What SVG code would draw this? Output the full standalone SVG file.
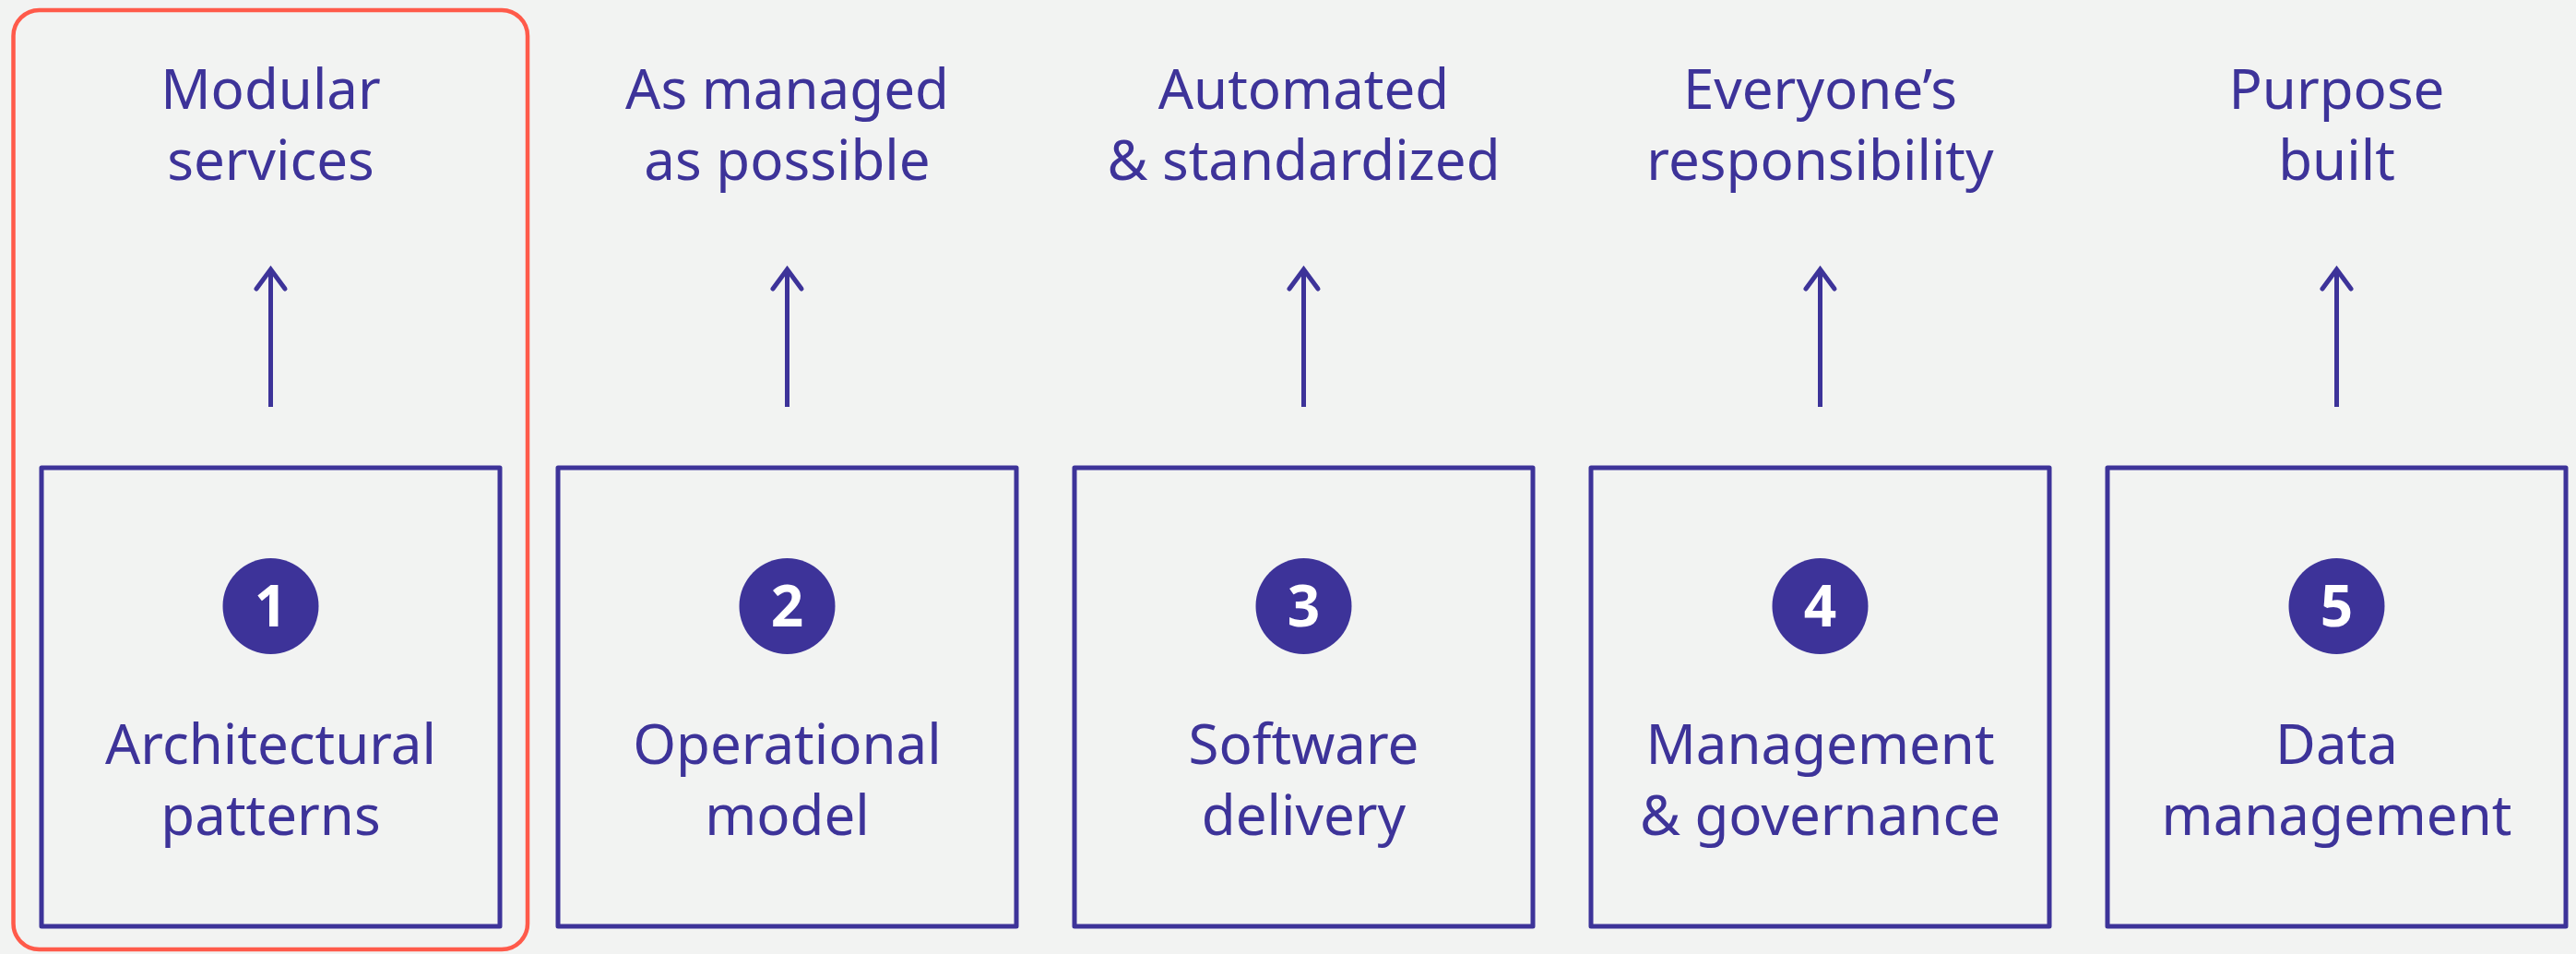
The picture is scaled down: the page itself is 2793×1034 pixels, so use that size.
<svg xmlns="http://www.w3.org/2000/svg" width="2793" height="1034" viewBox="0 0 2793 1034">
<style>
.bg{fill:#f2f3f2}
.box{fill:none;stroke:#3d3399;stroke-width:5;stroke-linejoin:round}
.hl{fill:none;stroke:#ff5a4a;stroke-width:4.5}
.num-c{fill:#3d3399}
.num{font-family:"Noto Sans","Open Sans",sans-serif;font-weight:700;font-size:62px;fill:#ffffff;text-anchor:middle}
.lbl{font-family:"Noto Sans","Open Sans",sans-serif;font-size:60px;fill:#3d3399;text-anchor:middle}
.arr{fill:none;stroke:#3d3399;stroke-width:5;stroke-linecap:butt}
</style>
<defs>
<marker id="ah" markerUnits="userSpaceOnUse" orient="auto" markerWidth="40" markerHeight="40" viewBox="-30 -20 40 40" refX="0" refY="0" overflow="visible">
<path d="M-21,-15.5 L0,0 L-21,15.5" fill="none" stroke="#3d3399" stroke-width="5" stroke-linecap="round" stroke-linejoin="miter"/>
</marker>
</defs>
<rect class="bg" x="0" y="0" width="2793" height="1034"/>
<rect id="highlight" class="hl" x="14.5" y="11" width="557.5" height="1018" rx="28"/>

<g id="connectors">
<line class="arr" x1="293.5" y1="441" x2="293.5" y2="292" marker-end="url(#ah)"/>
<line class="arr" x1="853.5" y1="441" x2="853.5" y2="292" marker-end="url(#ah)"/>
<line class="arr" x1="1413.5" y1="441" x2="1413.5" y2="292" marker-end="url(#ah)"/>
<line class="arr" x1="1973.5" y1="441" x2="1973.5" y2="292" marker-end="url(#ah)"/>
<line class="arr" x1="2533.5" y1="441" x2="2533.5" y2="292" marker-end="url(#ah)"/>
</g>

<g id="goal1"><text class="lbl" x="293.5" y="118">Modular</text><text class="lbl" x="293.5" y="195">services</text></g>
<g id="goal2"><text class="lbl" x="853.5" y="118">As managed</text><text class="lbl" x="853.5" y="195">as possible</text></g>
<g id="goal3"><text class="lbl" x="1413.5" y="118">Automated</text><text class="lbl" x="1413.5" y="195">&amp; standardized</text></g>
<g id="goal4"><text class="lbl" x="1973.5" y="118">Everyone’s</text><text class="lbl" x="1973.5" y="195">responsibility</text></g>
<g id="goal5"><text class="lbl" x="2533.5" y="118">Purpose</text><text class="lbl" x="2533.5" y="195">built</text></g>

<g id="node1"><rect class="box" x="45" y="507" width="497" height="497"/><circle class="num-c" cx="293.5" cy="657" r="52"/><text class="num" x="293.5" y="679">1</text><text class="lbl" x="293.5" y="828">Architectural</text><text class="lbl" x="293.5" y="905">patterns</text></g>
<g id="node2"><rect class="box" x="605" y="507" width="497" height="497"/><circle class="num-c" cx="853.5" cy="657" r="52"/><text class="num" x="853.5" y="679">2</text><text class="lbl" x="853.5" y="828">Operational</text><text class="lbl" x="853.5" y="905">model</text></g>
<g id="node3"><rect class="box" x="1165" y="507" width="497" height="497"/><circle class="num-c" cx="1413.5" cy="657" r="52"/><text class="num" x="1413.5" y="679">3</text><text class="lbl" x="1413.5" y="828">Software</text><text class="lbl" x="1413.5" y="905">delivery</text></g>
<g id="node4"><rect class="box" x="1725" y="507" width="497" height="497"/><circle class="num-c" cx="1973.5" cy="657" r="52"/><text class="num" x="1973.5" y="679">4</text><text class="lbl" x="1973.5" y="828">Management</text><text class="lbl" x="1973.5" y="905">&amp; governance</text></g>
<g id="node5"><rect class="box" x="2285" y="507" width="497" height="497"/><circle class="num-c" cx="2533.5" cy="657" r="52"/><text class="num" x="2533.5" y="679">5</text><text class="lbl" x="2533.5" y="828">Data</text><text class="lbl" x="2533.5" y="905">management</text></g>
</svg>
